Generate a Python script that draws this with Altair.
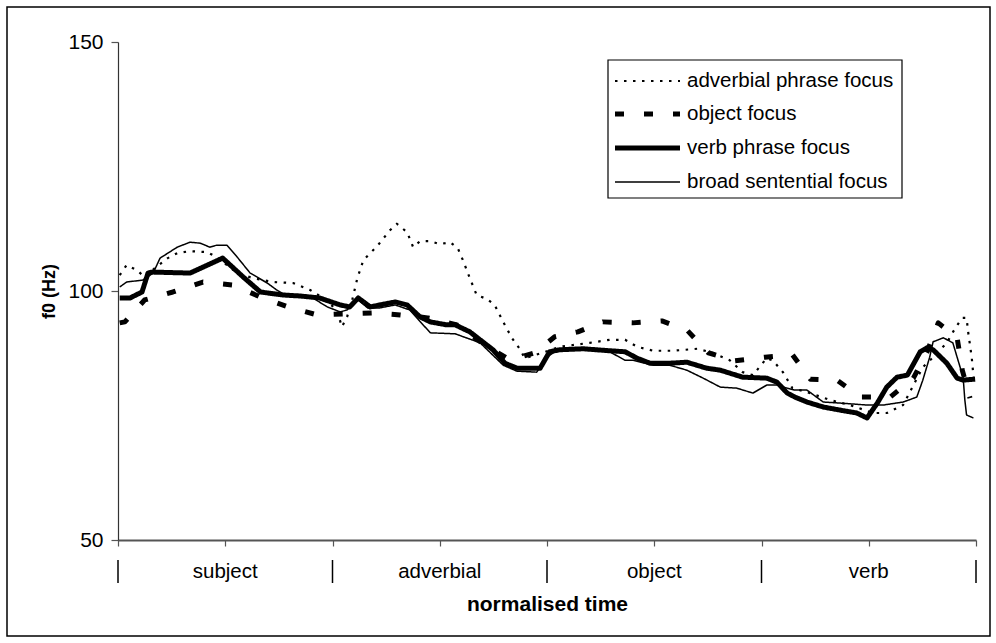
import altair as alt
import pandas as pd

# f0 contours (Hz) over normalised time (% of the utterance), one per focus condition
adv_t = [0.2, 1.0, 2.2, 3.1, 4.3, 5.8, 6.9, 8.4, 10.4, 11.5, 12.7, 13.9, 15.7, 18.1, 20.4, 22.4,
         23.9, 25.5, 26.1, 26.7, 27.3, 27.9, 28.6, 29.4, 30.2, 31.7, 32.5, 33.7, 34.4, 35.2, 36.4,
         37.5, 38.7, 39.6, 40.2, 41.0, 41.8, 43.0, 43.9, 44.9, 45.9, 46.9, 47.4, 49.8, 51.5, 55.0,
         57.3, 59.1, 60.5, 62.4, 64.7, 67.5, 69.3, 71.3, 72.8, 74.0, 75.6, 76.3, 77.5, 78.6, 80.3,
         83.0, 85.3, 88.0, 89.6, 91.5, 93.8, 95.0, 96.6, 97.6, 98.4, 98.9, 99.1, 99.5, 99.8]
adv_hz = [103.2, 105.2, 104.2, 102.8, 104.6, 106.6, 107.6, 108.0, 107.8, 106.8, 105.2, 103.6, 102.6,
          101.8, 101.6, 100.2, 98.6, 96.2, 92.8, 94.8, 98.2, 102.6, 106.2, 107.6, 109.0, 112.2, 113.5,
          111.8, 108.8, 110.0, 110.0, 109.4, 109.8, 108.6, 106.2, 102.6, 99.2, 98.4, 97.2, 93.8, 90.6,
          88.2, 86.5, 87.8, 88.8, 89.6, 90.2, 90.2, 88.8, 88.0, 88.0, 88.4, 87.6, 86.1, 83.7, 83.1,
          86.5, 86.1, 83.7, 80.5, 79.7, 78.1, 77.1, 75.5, 75.5, 77.1, 84.7, 86.7, 89.6, 92.6, 94.6,
          94.6, 91.6, 86.7, 81.1]

obj_t = [0.2, 0.8, 3.1, 6.4, 9.9, 13.4, 16.6, 19.8, 23.2, 26.5, 29.6, 32.9, 36.1, 39.5, 42.4, 45.7,
         48.6, 50.9, 53.6, 56.5, 60.0, 63.4, 66.4, 68.8, 71.9, 75.4, 78.6, 80.7, 83.8, 86.5, 90.0,
         92.7, 94.3, 95.6, 97.8, 98.4, 99.3]
obj_hz = [93.6, 93.8, 98.2, 99.8, 101.8, 101.2, 98.8, 96.8, 95.2, 95.4, 95.6, 95.2, 94.6, 93.2, 89.6,
          86.1, 87.6, 90.8, 91.8, 93.8, 93.6, 94.0, 92.0, 87.6, 86.0, 86.7, 87.2, 82.3, 82.1, 78.7,
          78.7, 82.5, 87.8, 93.6, 90.6, 84.1, 78.5]

vp_t = [0.2, 1.4, 2.8, 3.5, 4.0, 8.4, 12.2, 14.6, 16.6, 19.2, 21.2, 23.5, 25.9, 27.0, 28.0, 29.4,
        30.5, 32.3, 33.7, 35.2, 36.4, 38.3, 39.3, 41.0, 42.5, 43.7, 45.1, 46.5, 49.2, 50.3, 51.5,
        54.2, 57.3, 59.1, 60.5, 62.0, 64.3, 66.3, 68.6, 70.2, 72.8, 75.6, 76.8, 78.0, 78.9, 80.3,
        82.2, 84.1, 86.1, 87.3, 88.5, 89.6, 90.8, 92.0, 93.5, 94.3, 95.0, 96.6, 97.8, 98.5, 99.9]
vp_hz = [98.6, 98.6, 99.8, 103.6, 103.8, 103.6, 106.6, 102.8, 99.8, 99.2, 99.0, 98.6, 97.2, 96.8,
         98.6, 96.8, 97.2, 97.8, 97.2, 94.8, 93.8, 93.2, 93.2, 91.8, 89.8, 88.2, 85.5, 84.5, 84.5,
         87.8, 88.2, 88.4, 88.0, 87.8, 86.5, 85.5, 85.5, 85.7, 84.5, 84.1, 82.7, 82.5, 81.7, 79.5,
         78.7, 77.7, 76.7, 76.1, 75.5, 74.5, 77.5, 80.7, 82.7, 83.1, 87.8, 88.6, 88.2, 85.5, 82.5,
         82.1, 82.3]

broad_t = [0.2, 1.0, 2.9, 4.1, 4.9, 6.9, 8.4, 9.6, 10.7, 11.5, 12.7, 13.9, 15.4, 17.4, 18.5, 19.5,
           22.7, 24.4, 25.9, 26.7, 28.0, 29.1, 30.5, 32.3, 34.0, 36.4, 39.3, 42.2, 43.4, 44.9, 46.5,
           48.8, 50.0, 51.2, 54.2, 57.3, 59.1, 60.0, 62.4, 64.3, 66.3, 68.2, 70.2, 72.1, 74.0, 75.6,
           76.8, 78.0, 78.9, 80.3, 82.2, 84.1, 87.3, 89.2, 91.5, 93.1, 93.8, 94.6, 95.0, 96.2, 97.3,
           97.8, 98.5, 98.7, 98.9, 99.7]
broad_hz = [100.8, 101.8, 102.2, 103.6, 106.6, 108.8, 109.8, 109.6, 108.8, 109.2, 109.2, 106.8,
            103.6, 101.6, 100.2, 99.2, 98.6, 96.8, 95.8, 96.2, 98.2, 96.6, 96.6, 97.2, 96.2, 91.6,
            91.4, 89.6, 87.6, 85.1, 83.9, 83.7, 86.7, 88.2, 88.2, 87.8, 86.1, 86.1, 85.1, 85.1, 84.1,
            82.5, 80.7, 80.5, 79.5, 81.1, 81.1, 80.5, 80.1, 80.1, 77.7, 77.5, 77.1, 77.1, 77.7, 78.7,
            82.1, 86.7, 89.8, 90.6, 89.6, 86.7, 82.7, 78.1, 75.1, 74.5]

series_names = ["adverbial phrase focus", "object focus", "verb phrase focus", "broad sentential focus"]

# sentence constituents along the time axis
segments = ["subject", "adverbial", "object", "verb"]
segment_mid = [12.5, 37.5, 62.5, 87.5]
boundaries = [0, 25, 50, 75, 100]
time_ticks = [0, 12.5, 25, 37.5, 50, 62.5, 75, 87.5, 100]
f0_ticks = [50, 100, 150]

FONT = "Liberation Sans"
W, H = 858, 498

x_scale = alt.Scale(domain=[0, 100], nice=False, zero=False)
y_scale = alt.Scale(domain=[50, 150], nice=False, zero=False)

x_enc = alt.X("t:Q", scale=x_scale, axis=alt.Axis(
    values=time_ticks, labels=False, tickSize=6, grid=False,
    title="normalised time", titleFontSize=21, titleFontWeight="bold", titleFont=FONT,
    titlePadding=47, titleColor="black", domainColor="#555555", domainWidth=2,
    tickColor="#555555", tickWidth=1.2))
y_enc = alt.Y("hz:Q", scale=y_scale, axis=alt.Axis(
    values=f0_ticks, tickSize=7, grid=False, labelFontSize=21, labelFont=FONT,
    labelColor="black", labelPadding=8, title="f0 (Hz)", titleFontSize=18,
    titleFontWeight="bold", titleFont=FONT, titlePadding=9, titleColor="black",
    domainColor="#333333", domainWidth=1.2, tickColor="#555555", tickWidth=1.2))


def frame(ts, hzs):
    return pd.DataFrame({"t": ts, "hz": hzs})


# line style per condition: (strokeWidth, strokeDash)
styles = {
    "adverbial phrase focus": (2.2, [2.5, 6.5]),
    "object focus": (5, [9, 20]),
    "verb phrase focus": (5, [1, 0]),
    "broad sentential focus": (1.5, [1, 0]),
}
curves = {
    "adverbial phrase focus": frame(adv_t, adv_hz),
    "object focus": frame(obj_t, obj_hz),
    "verb phrase focus": frame(vp_t, vp_hz),
    "broad sentential focus": frame(broad_t, broad_hz),
}

layers = []
for name in ["broad sentential focus", "adverbial phrase focus", "object focus", "verb phrase focus"]:
    sw, dash = styles[name]
    layers.append(
        alt.Chart(curves[name]).mark_line(color="black", strokeWidth=sw, strokeDash=dash,
                                         strokeCap="butt", strokeJoin="round")
        .encode(x=x_enc, y=y_enc)
    )

# constituent labels and boundary bars under the axis
seg_df = pd.DataFrame({"seg": segments, "mid": segment_mid})
layers.append(
    alt.Chart(seg_df).mark_text(font=FONT, fontSize=20.5, color="black", baseline="middle")
    .encode(x=alt.X("mid:Q", scale=x_scale), y=alt.value(530), text="seg:N")
)
bound_df = pd.DataFrame({"b": boundaries})
layers.append(
    alt.Chart(bound_df).mark_rule(color="black", strokeWidth=1.5)
    .encode(x=alt.X("b:Q", scale=x_scale), y=alt.value(518), y2=alt.value(541))
)

# legend box
one = pd.DataFrame({"k": [0]})
layers.append(
    alt.Chart(one).mark_rect(filled=False, stroke="black", strokeWidth=1.2)
    .encode(x=alt.value(490), x2=alt.value(784), y=alt.value(18), y2=alt.value(156))
)
row_y = [39, 72, 106, 140]
for name, ry in zip(series_names, row_y):
    sw, dash = styles[name]
    lab = pd.DataFrame({"label": [name]})
    layers.append(
        alt.Chart(lab).mark_rule(color="black", strokeWidth=sw, strokeDash=dash, strokeCap="butt")
        .encode(x=alt.value(497), x2=alt.value(562), y=alt.value(ry))
    )
    layers.append(
        alt.Chart(lab).mark_text(font=FONT, fontSize=20.5, align="left", baseline="middle", color="black")
        .encode(x=alt.value(569), y=alt.value(ry), text="label:N")
    )

# outer frame
layers.append(
    alt.Chart(one).mark_rect(filled=False, stroke="black", strokeWidth=1.5)
    .encode(x=alt.value(-111), x2=alt.value(872), y=alt.value(-35), y2=alt.value(594))
)

chart = alt.layer(*layers).properties(
    width=W, height=H,
    autosize=alt.AutoSizeParams(type="none"),
    padding={"left": 118, "top": 42, "right": 20, "bottom": 103},
    background="white",
).configure_view(stroke=None)

chart.save("out.html", embed_options={"renderer": "svg", "actions": False})
